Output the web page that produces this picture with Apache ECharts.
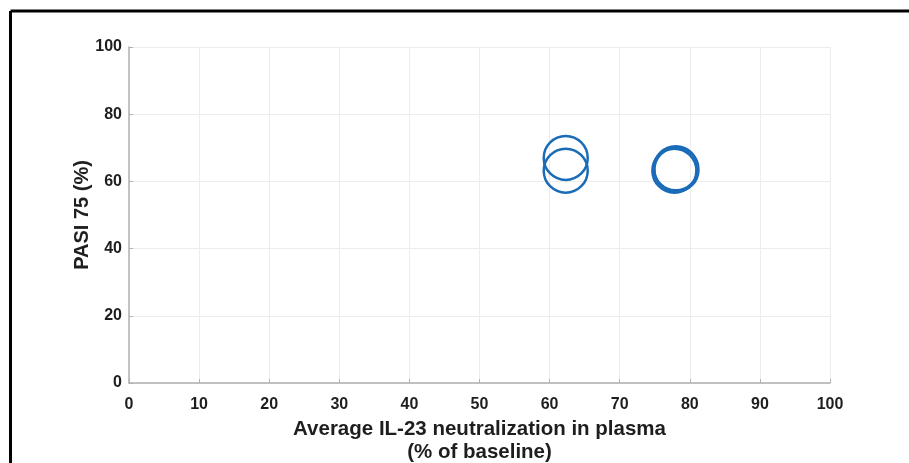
<!DOCTYPE html>
<html>
<head>
<meta charset="utf-8">
<script src="https://cdn.jsdelivr.net/npm/echarts@6/dist/echarts.min.js"></script>
<style>
html,body{margin:0;padding:0;background:#fff;}
#c{width:909px;height:463px;}
</style>
</head>
<body>
<div id="c"></div>
<script>
// Data
var neutralization = [62.3, 62.3, 77.8, 78.0, 78.1];
var pasi75 = [67.0, 63.2, 63.2, 63.9, 63.5];
var xTicks = [0, 10, 20, 30, 40, 50, 60, 70, 80, 90, 100];
var yTicks = [0, 20, 40, 60, 80, 100];
var xTitle = 'Average IL-23 neutralization in plasma\n(% of baseline)';
var yTitle = 'PASI 75 (%)';

var points = neutralization.map(function (x, i) { return [x, pasi75[i]]; });

var chart = echarts.init(document.getElementById('c'), null, {renderer: 'canvas'});
var FONT = 'Liberation Sans, Arial, sans-serif';
var labelStyle = {color: '#1e1e1e', fontFamily: FONT, fontWeight: 'bold', fontSize: 16};
chart.setOption({
  animation: false,
  backgroundColor: '#fff',
  grid: {left: 129, right: 79, top: 47, bottom: 80, containLabel: false, outerBoundsMode: 'none'},
  xAxis: {
    type: 'value', min: 0, max: 100, interval: 10,
    name: xTitle, nameLocation: 'middle', nameGap: 31,
    nameTextStyle: {color: '#1e1e1e', fontFamily: FONT, fontWeight: 'bold', fontSize: 20.5, lineHeight: 23},
    axisLine: {show: true, lineStyle: {color: '#b0b0b0', width: 1.5}},
    axisTick: {show: true, inside: true, length: 4, lineStyle: {color: '#b0b0b0'}},
    axisLabel: Object.assign({margin: 14, formatter: function (v) { return xTicks.indexOf(v) >= 0 ? String(v) : ''; }}, labelStyle),
    splitLine: {show: true, lineStyle: {color: '#ececec', width: 1}}
  },
  yAxis: {
    type: 'value', min: 0, max: 100, interval: 20,
    name: yTitle, nameLocation: 'middle', nameGap: 37, nameMoveOverlap: false,
    nameTextStyle: {color: '#1e1e1e', fontFamily: FONT, fontWeight: 'bold', fontSize: 20},
    axisLine: {show: true, lineStyle: {color: '#b0b0b0', width: 1.5}},
    axisTick: {show: true, inside: true, length: 4, lineStyle: {color: '#b0b0b0'}},
    axisLabel: Object.assign({margin: 7, formatter: function (v) { return yTicks.indexOf(v) >= 0 ? String(v) : ''; }}, labelStyle),
    splitLine: {show: true, lineStyle: {color: '#ececec', width: 1}}
  },
  series: [{
    type: 'scatter',
    data: points,
    symbol: 'circle',
    symbolSize: 44,
    itemStyle: {color: 'rgba(0,0,0,0)', borderColor: '#1a6bb8', borderWidth: 2.5, opacity: 1}
  }],
  graphic: [
    {type: 'line', shape: {x1: 10.5, y1: 11, x2: 909, y2: 11}, style: {stroke: '#000', lineWidth: 3}},
    {type: 'line', shape: {x1: 10.5, y1: 11, x2: 10.5, y2: 463}, style: {stroke: '#000', lineWidth: 3}}
  ]
});
</script>
</body>
</html>
